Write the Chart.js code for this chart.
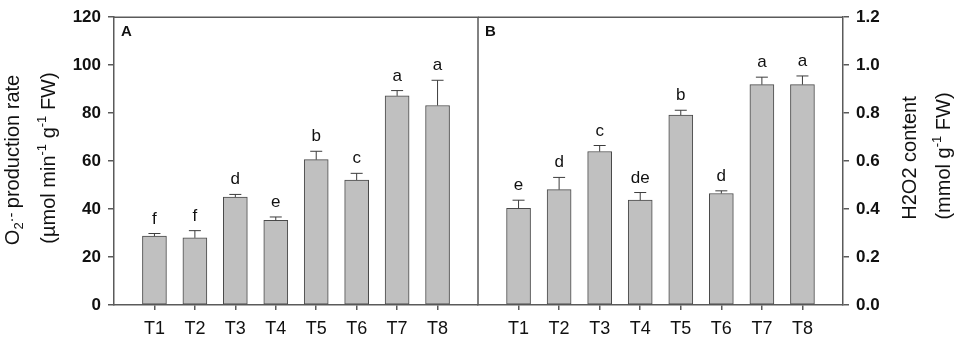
<!DOCTYPE html>
<html>
<head>
<meta charset="utf-8">
<script src="https://cdn.jsdelivr.net/npm/chart.js@4.4.1/dist/chart.umd.min.js"></script>
<style>
  html, body { margin: 0; padding: 0; background: #fff; }
  #wrap { position: relative; width: 964px; height: 345px; }
  #wrap canvas { position: absolute; left: 0; top: 0; }
</style>
</head>
<body>
<div id="wrap">
  <canvas id="chartA" width="964" height="345"></canvas>
  <canvas id="chartB" width="964" height="345"></canvas>
</div>
<script>
// categories and data
const categories = ['T1', 'T2', 'T3', 'T4', 'T5', 'T6', 'T7', 'T8'];

// panel A: O2- production rate
const o2Rate = [28.7, 28.0, 45.0, 35.3, 60.6, 52.1, 87.2, 83.2];
const o2Err = [1.1, 3.0, 1.1, 1.4, 3.5, 2.8, 2.2, 10.5];
const o2Letters = ['f', 'f', 'd', 'e', 'b', 'c', 'a', 'a'];

// panel B: H2O2 content
const h2o2 = [0.403, 0.481, 0.640, 0.437, 0.792, 0.465, 0.919, 0.919];
const h2o2Err = [0.034, 0.051, 0.025, 0.032, 0.020, 0.011, 0.031, 0.036];
const h2o2Letters = ['e', 'd', 'c', 'de', 'b', 'd', 'a', 'a'];

const leftTicks = [0, 20, 40, 60, 80, 100, 120];
const rightTicks = [0, 0.2, 0.4, 0.6, 0.8, 1.0, 1.2];

const FONT = "'Liberation Sans', Arial, sans-serif";
const LINE = '#5a5a5a';

// draw text made of pieces, some raised or lowered (sub/superscripts)
function drawRich(ctx, parts, cx, cy) {
  ctx.save();
  ctx.translate(cx, cy);
  ctx.rotate(-Math.PI / 2);
  ctx.fillStyle = '#111';
  ctx.textBaseline = 'middle';
  ctx.textAlign = 'left';
  let total = 0;
  parts.forEach(p => {
    ctx.font = (p.size || 20) + 'px ' + FONT;
    p.w = ctx.measureText(p.t).width;
    total += p.w;
  });
  let x = -total / 2;
  parts.forEach(p => {
    ctx.font = (p.size || 20) + 'px ' + FONT;
    ctx.fillText(p.t, x, p.dy || 0);
    x += p.w;
  });
  ctx.restore();
}

function errPlugin(errs, letters, panel) {
  return {
    id: 'extras' + panel,
    afterDatasetsDraw(chart) {
      const ctx = chart.ctx;
      const meta = chart.getDatasetMeta(0);
      const ys = chart.scales.y;
      const vals = chart.data.datasets[0].data;
      ctx.save();
      ctx.strokeStyle = '#3c3c3c';
      ctx.lineWidth = 1;
      meta.data.forEach((bar, i) => {
        const top = ys.getPixelForValue(vals[i].y + errs[i]);
        ctx.beginPath();
        ctx.moveTo(bar.x, bar.y);
        ctx.lineTo(bar.x, top);
        ctx.moveTo(bar.x - 6, top);
        ctx.lineTo(bar.x + 6, top);
        ctx.stroke();
        ctx.fillStyle = '#111';
        ctx.font = '17px ' + FONT;
        ctx.textAlign = 'center';
        ctx.textBaseline = 'alphabetic';
        ctx.fillText(letters[i], bar.x, top - 10);
      });
      // frame
      const a = chart.chartArea;
      ctx.strokeStyle = LINE;
      ctx.lineWidth = 1.5;
      ctx.beginPath();
      ctx.moveTo(a.left, a.top);
      ctx.lineTo(a.right, a.top);
      if (panel === 'A') {
        ctx.lineTo(a.right, a.bottom);
      }
      ctx.stroke();
      // panel letter
      ctx.fillStyle = '#111';
      ctx.font = 'bold 15px ' + FONT;
      ctx.textAlign = 'left';
      ctx.textBaseline = 'middle';
      ctx.fillText(panel, a.left + 7, a.top + 15);
      // axis titles
      if (panel === 'A') {
        drawRich(ctx, [
          { t: 'O' },
          { t: '2', size: 13, dy: 6 },
          { t: '·- ', size: 15, dy: -1 },
          { t: 'production rate' }
        ], 13, 160);
        drawRich(ctx, [
          { t: '(\u00b5mol min' },
          { t: '-1', size: 13, dy: -7 },
          { t: ' g' },
          { t: '-1', size: 13, dy: -7 },
          { t: ' FW)' }
        ], 49, 158);
      } else {
        drawRich(ctx, [{ t: 'H2O2 content' }], 910, 158);
        drawRich(ctx, [
          { t: '(mmol g' },
          { t: '-1', size: 13, dy: -7 },
          { t: ' FW)' }
        ], 944, 156);
      }
      ctx.restore();
    }
  };
}

function makeChart(id, values, errs, letters, panel) {
  const pts = values.map((v, i) => ({ x: i + 1, y: v }));
  const isA = panel === 'A';
  return new Chart(document.getElementById(id), {
    type: 'bar',
    data: {
      datasets: [{
        data: pts,
        backgroundColor: '#c0c0c0',
        borderColor: '#4a4a4a',
        borderWidth: 1,
        borderSkipped: false,
        barThickness: 24
      }]
    },
    options: {
      responsive: false,
      animation: false,
      devicePixelRatio: 1,
      layout: {
        padding: isA ? { left: 0, right: 486, top: 15, bottom: 0 }
                     : { left: 478, right: 0, top: 15, bottom: 0 }
      },
      plugins: { legend: { display: false }, tooltip: { enabled: false } },
      scales: {
        x: {
          type: 'linear',
          min: 0,
          max: 9,
          offset: false,
          afterBuildTicks: s => {
            s.ticks = categories.map((c, i) => ({ value: i + 1 }));
          },
          afterFit: s => { s.height = 40; },
          ticks: {
            callback: v => categories[v - 1],
            color: '#111',
            font: { size: 18, family: FONT },
            padding: 8,
            maxRotation: 0
          },
          grid: { offset: false, drawOnChartArea: false, drawTicks: true, tickLength: 5, color: LINE, lineWidth: 1.5 },
          border: { display: true, color: LINE, width: 1.5 }
        },
        y: {
          position: isA ? 'left' : 'right',
          min: 0,
          max: isA ? 120 : 1.2,
          afterBuildTicks: s => {
            s.ticks = (isA ? leftTicks : rightTicks).map(v => ({ value: v }));
          },
          afterFit: s => { s.width = isA ? 114 : 121; },
          ticks: {
            callback: v => isA ? v : v.toFixed(1),
            color: '#111',
            font: { size: 17, weight: 'bold', family: FONT },
            padding: 7
          },
          grid: { drawOnChartArea: false, drawTicks: true, tickLength: 6, color: LINE, lineWidth: 1.5 },
          border: { display: true, color: LINE, width: 1.5 }
        }
      }
    },
    plugins: [errPlugin(errs, letters, panel)]
  });
}

makeChart('chartA', o2Rate, o2Err, o2Letters, 'A');
makeChart('chartB', h2o2, h2o2Err, h2o2Letters, 'B');
</script>
</body>
</html>
